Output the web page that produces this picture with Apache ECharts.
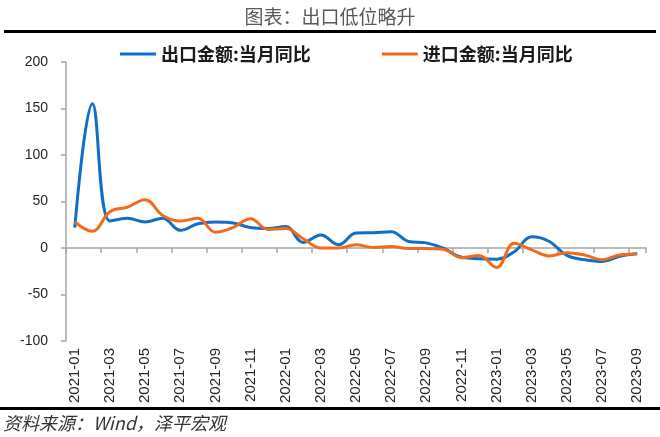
<!DOCTYPE html>
<html>
<head>
<meta charset="utf-8">
<script src="https://cdn.jsdelivr.net/npm/echarts@6/dist/echarts.min.js"></script>
<style>
html,body{margin:0;padding:0;background:#fff;}
#c{width:660px;height:437px;}
</style>
</head>
<body>
<div id="c"></div>
<script>
const months = ['2021-01','2021-02','2021-03','2021-04','2021-05','2021-06','2021-07','2021-08','2021-09','2021-10','2021-11','2021-12',
'2022-01','2022-02','2022-03','2022-04','2022-05','2022-06','2022-07','2022-08','2022-09','2022-10','2022-11','2022-12',
'2023-01','2023-02','2023-03','2023-04','2023-05','2023-06','2023-07','2023-08','2023-09'];
const exportYoY = [22, 155, 29, 32, 28, 32, 19, 26, 28, 27, 22, 21,
  23, 6, 14, 3.5, 16, 16.5, 17.5, 7, 5.5, -0.5, -10, -11.5,
  -12, -4, 12, 7, -8, -12.5, -14.5, -9, -6];
const importYoY = [28, 18, 39, 44, 52, 35, 29, 32, 17, 22, 31.5, 20,
  21, 10, 0, 0, 3.5, 0.5, 1.5, -0.5, -0.5, -1.5, -10.5, -8,
  -21, 5, -2, -8.5, -5, -7.5, -12.5, -7.5, -6.5];
const yTicks = {min: -100, max: 200, interval: 50};
const seriesNames = ['出口金额:当月同比', '进口金额:当月同比'];
const titleText = '图表：出口低位略升';
const sourceText = '资料来源：Wind，泽平宏观';

const chart = echarts.init(document.getElementById('c'), null, {renderer: 'canvas'});
const axisGray = '#A6A6A6';
chart.setOption({
  animation: false,
  backgroundColor: '#fff',
  title: {
    text: titleText, left: 'center', top: 2,
    textStyle: {fontFamily: 'Noto Sans CJK SC', fontSize: 19, fontWeight: 'normal', color: '#595959'}
  },
  legend: {
    left: 115, top: 40,
    itemWidth: 36, itemHeight: 3, itemGap: 71, icon: 'rect',
    textStyle: {fontFamily: 'Noto Sans CJK SC', fontSize: 18, fontWeight: 'bold', color: '#1a1a1a'},
    data: seriesNames
  },
  grid: {left: 66, right: 14, top: 62, bottom: 96},
  xAxis: [{
    type: 'category', data: months, boundaryGap: true,
    axisLine: {onZero: true, lineStyle: {color: axisGray, width: 1.5}},
    axisTick: {show: true, interval: 1, length: 5, lineStyle: {color: axisGray, width: 1.5}},
    axisLabel: {show: false}
  }, {
    type: 'category', data: months, boundaryGap: true, position: 'bottom',
    axisLine: {show: false, onZero: false},
    axisTick: {show: false},
    axisLabel: {interval: 1, rotate: 90, margin: 7, fontFamily: 'Liberation Sans', fontSize: 15, color: '#262626'}
  }],
  yAxis: {
    type: 'value', min: yTicks.min, max: yTicks.max, interval: yTicks.interval,
    splitLine: {show: false},
    axisLine: {show: true, lineStyle: {color: axisGray, width: 1.5}},
    axisTick: {show: true, length: 5, lineStyle: {color: axisGray, width: 1.5}},
    axisLabel: {margin: 18, fontFamily: 'Liberation Sans', fontSize: 14, color: '#262626'}
  },
  series: [{
    name: seriesNames[0], type: 'line', data: exportYoY, smooth: 0.4, showSymbol: false, symbol: 'none',
    lineStyle: {color: '#0F6FC6', width: 3}, itemStyle: {color: '#0F6FC6'}, z: 2
  }, {
    name: seriesNames[1], type: 'line', data: importYoY, smooth: 0.4, showSymbol: false, symbol: 'none',
    lineStyle: {color: '#F26B1D', width: 3}, itemStyle: {color: '#F26B1D'}, z: 3
  }],
  graphic: [
    {type: 'rect', shape: {x: 4, y: 30, width: 652, height: 3}, style: {fill: '#000'}},
    {type: 'rect', shape: {x: 0, y: 407, width: 660, height: 3}, style: {fill: '#000'}},
    {type: 'text', left: 3, top: 414, style: {text: sourceText, font: 'italic 18px "Noto Sans CJK SC"', fill: '#333'}}
  ]
});
</script>
</body>
</html>
